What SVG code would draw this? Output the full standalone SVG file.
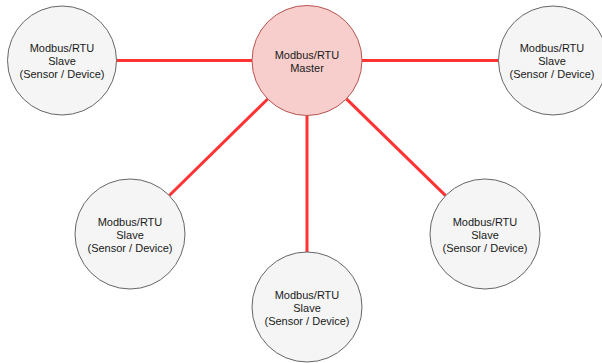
<svg xmlns="http://www.w3.org/2000/svg" width="602" height="363" viewBox="0 0 602 363">
<style>
.slave{fill:#f5f5f5;stroke:#666666;stroke-width:1}
.master{fill:#f8cecc;stroke:#b85450;stroke-width:1}
.lbl{font-family:"Liberation Sans",Arial,sans-serif;font-size:11px;fill:#1a1a1a;text-anchor:middle}
.link{stroke:#ff3333;stroke-width:3;fill:none}
</style>
<rect width="602" height="363" fill="#ffffff"/>
<g id="connectors">
<line class="link" x1="116.5" y1="60.5" x2="252" y2="60.5"/>
<line class="link" x1="362" y1="60.5" x2="498.5" y2="60.5"/>
<line class="link" x1="267.7" y1="99" x2="169.3" y2="195.5"/>
<line class="link" x1="307" y1="115.5" x2="307" y2="252"/>
<line class="link" x1="346.4" y1="98.9" x2="445.6" y2="195.6"/>
</g>
<g id="master">
<circle class="master" cx="307" cy="60.5" r="55"/>
<text class="lbl" x="307" y="58.5">Modbus/RTU</text>
<text class="lbl" x="307" y="71.5">Master</text>
</g>
<g id="slave-top-left">
<circle class="slave" cx="62" cy="60.5" r="54.5"/>
<text class="lbl" x="62" y="52">Modbus/RTU</text>
<text class="lbl" x="62" y="65">Slave</text>
<text class="lbl" x="62" y="78">(Sensor / Device)</text>
</g>
<g id="slave-top-right">
<circle class="slave" cx="553" cy="60.5" r="54.5"/>
<text class="lbl" x="552" y="52">Modbus/RTU</text>
<text class="lbl" x="552" y="65">Slave</text>
<text class="lbl" x="552" y="78">(Sensor / Device)</text>
</g>
<g id="slave-bottom-left">
<circle class="slave" cx="130" cy="234" r="55"/>
<text class="lbl" x="130" y="225.5">Modbus/RTU</text>
<text class="lbl" x="130" y="238.5">Slave</text>
<text class="lbl" x="130" y="251.5">(Sensor / Device)</text>
</g>
<g id="slave-bottom-middle">
<circle class="slave" cx="307" cy="307" r="55"/>
<text class="lbl" x="307" y="298.5">Modbus/RTU</text>
<text class="lbl" x="307" y="311.5">Slave</text>
<text class="lbl" x="307" y="324.5">(Sensor / Device)</text>
</g>
<g id="slave-bottom-right">
<circle class="slave" cx="485" cy="234" r="55"/>
<text class="lbl" x="485" y="225.5">Modbus/RTU</text>
<text class="lbl" x="485" y="238.5">Slave</text>
<text class="lbl" x="485" y="251.5">(Sensor / Device)</text>
</g>
</svg>
